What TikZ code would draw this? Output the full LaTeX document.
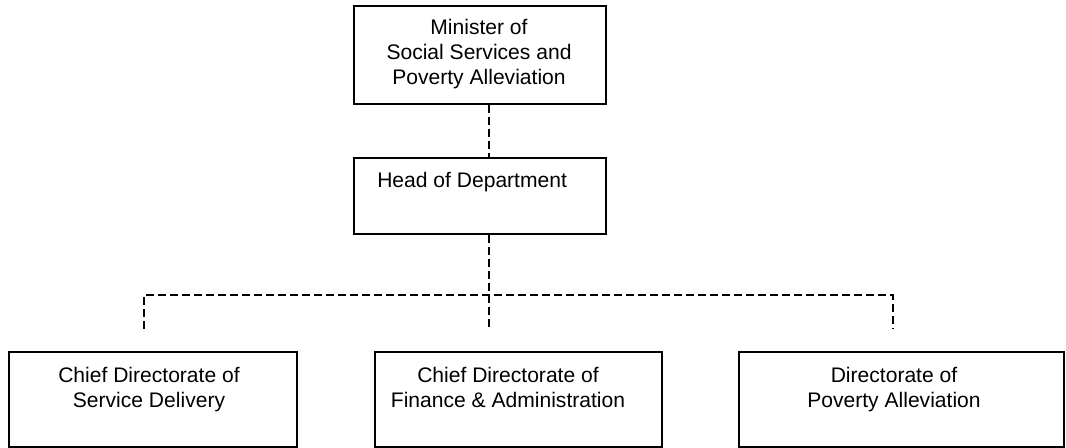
\documentclass[tikz,border=0pt]{standalone}
\usepackage{fontspec}
\setmainfont{Liberation Sans}
\usepackage{tikz}

\begin{document}
\begin{tikzpicture}[x=0.75pt,y=-0.75pt,
	box/.style={draw,line width=1pt,inner sep=0pt},
	link/.style={line width=1pt,dash pattern=on 6pt off 3pt},
	txt/.style={align=center,font=\fontsize{15.8}{18.8}\selectfont,inner sep=0pt,anchor=base}]

	\useasboundingbox (0,0) rectangle (1066,448);

	\node[box,minimum width=189pt,minimum height=73.5pt] (m) at (480,55) {};
	\node[txt] (mt) at (479,85) {Minister of\\Social Services and\\Poverty Alleviation};

	\node[box,minimum width=189pt,minimum height=57pt] (h) at (480,196) {};
	\node[txt,anchor=base west] (ht) at (377,188) {Head of Department};

	\node[box,minimum width=216pt,minimum height=71.25pt] (s) at (153,399.5) {};
	\node[box,minimum width=215.25pt,minimum height=71.25pt] (f) at (518.5,399.5) {};
	\node[box,minimum width=243.75pt,minimum height=71.25pt] (p) at (901.5,399.5) {};

	\node[txt] (st) at (149,407.5) {Chief Directorate of\\Service Delivery};
	\node[txt] (ft) at (508,407.5) {Chief Directorate of\\Finance \& Administration};
	\node[txt] (pl) at (894,407.5) {Directorate of\\Poverty Alleviation};

	\coordinate (j) at (489,295);
	\coordinate (s1) at (144,329);
	\coordinate (f1) at (489,329);
	\coordinate (p1) at (893,329);

	\draw[link] (j |- m.south) -- (j |- h.north);
	\draw[link] (j |- h.south) -- (f1);
	\draw[link] (s1) |- (p1 |- j) -- (p1);

\end{tikzpicture}
\end{document}
